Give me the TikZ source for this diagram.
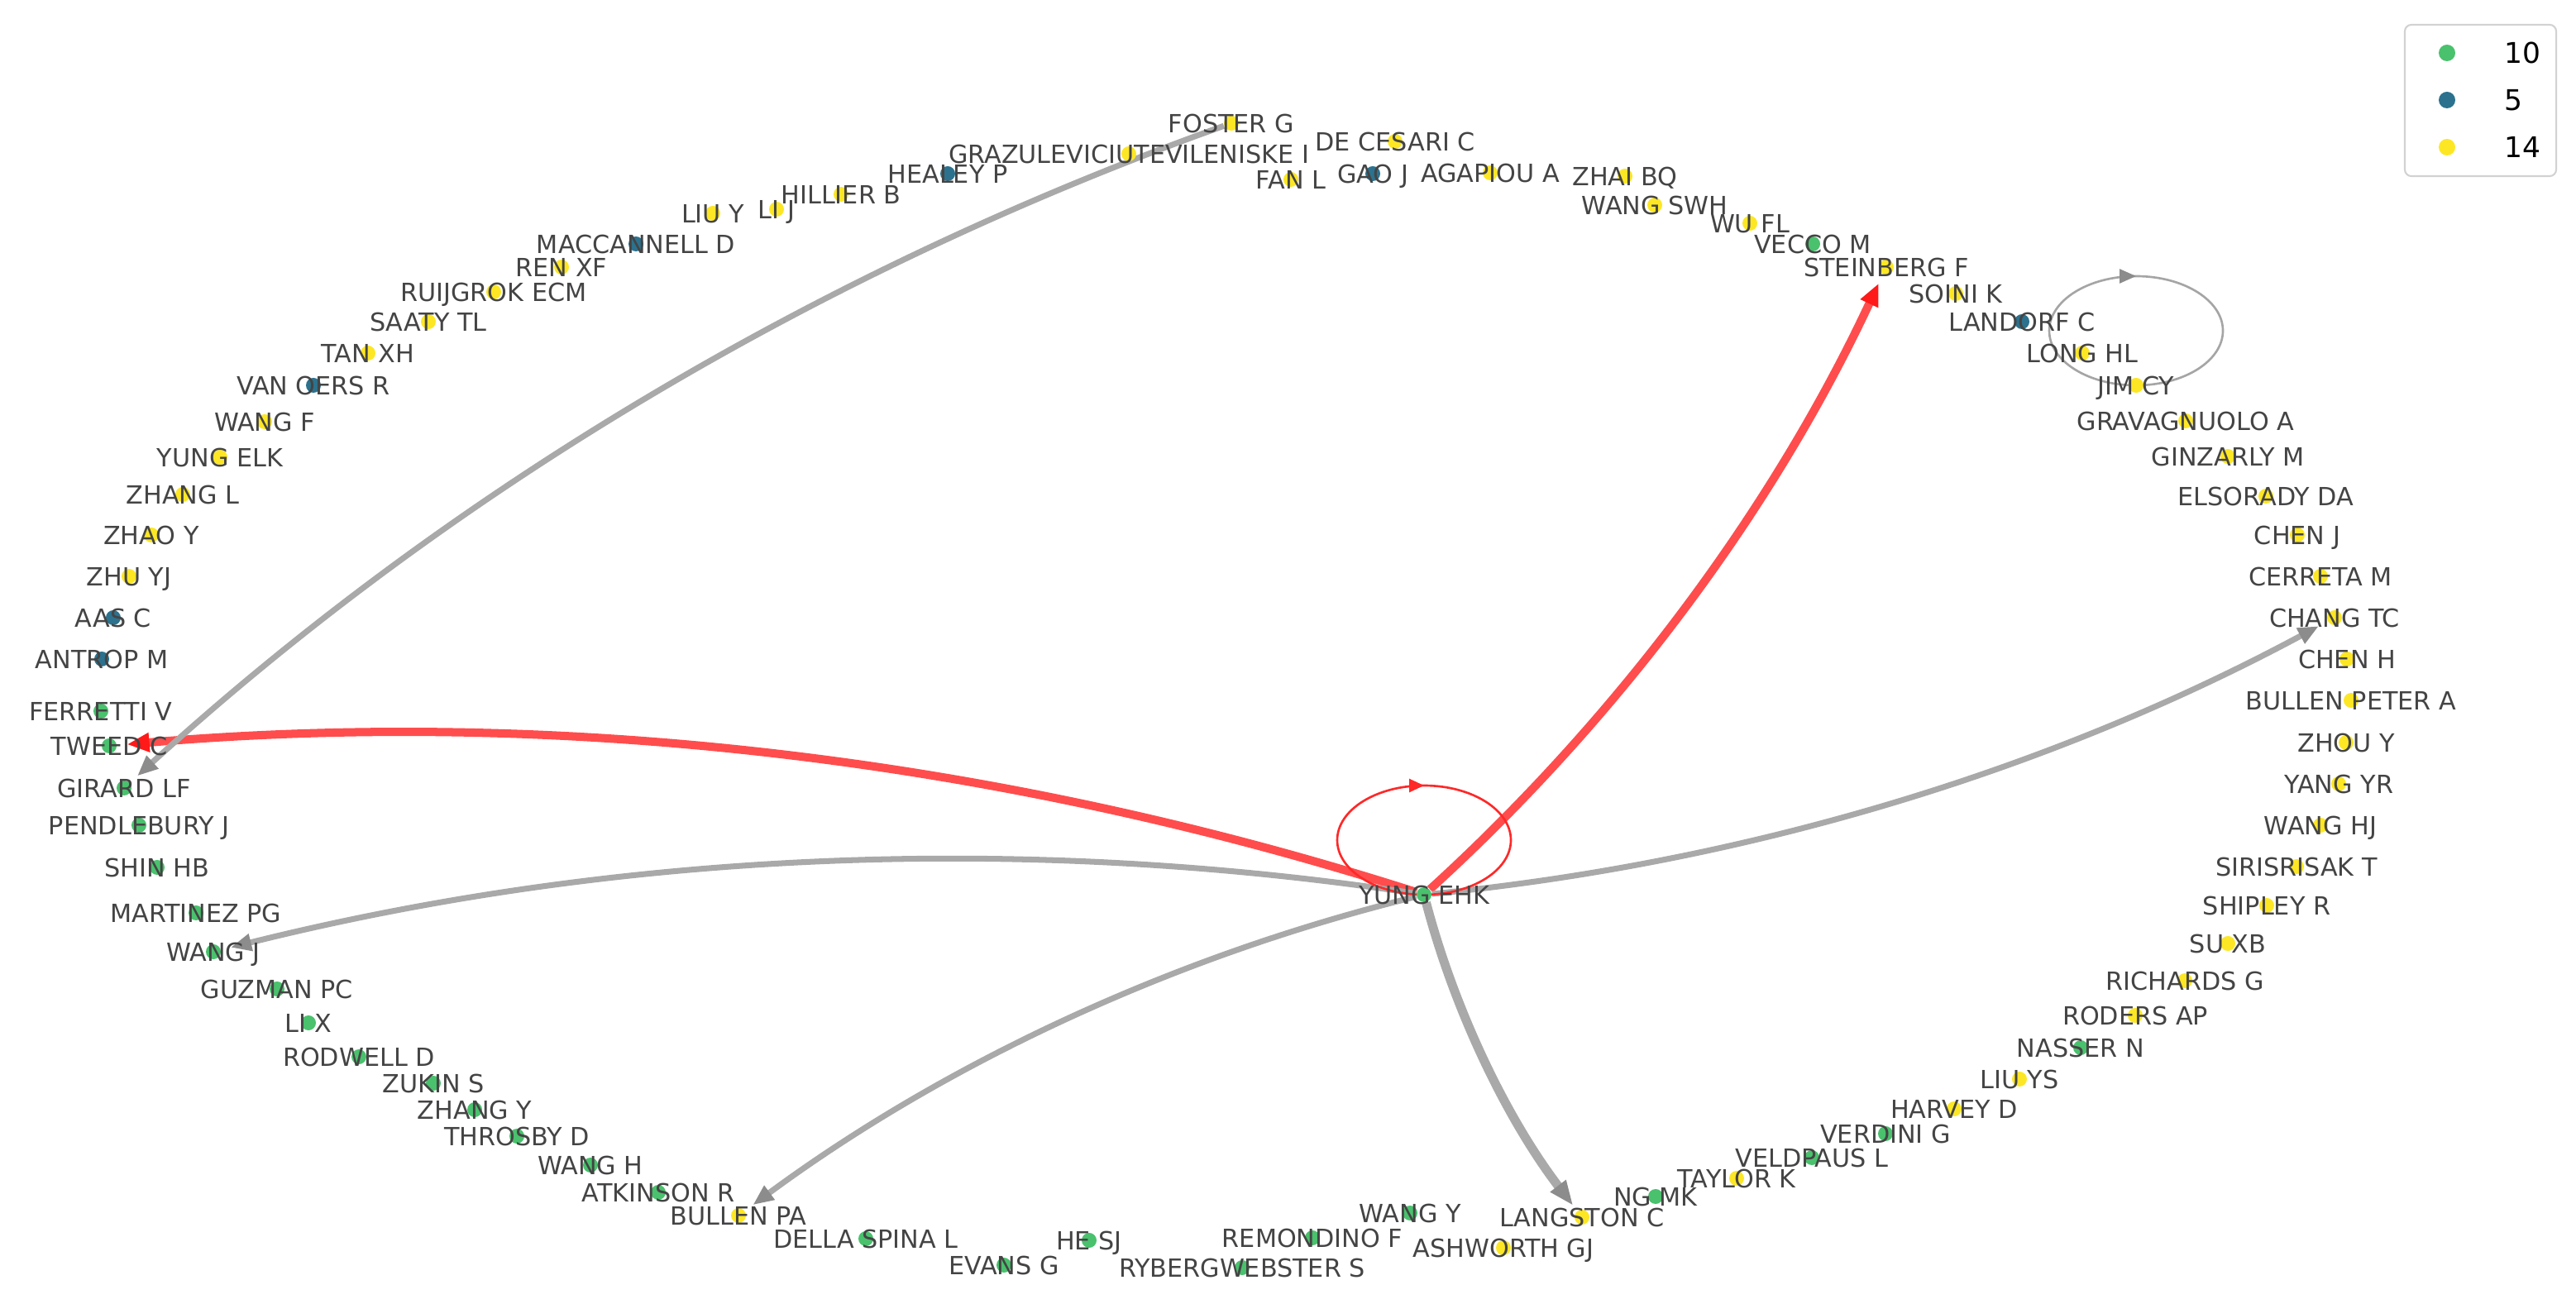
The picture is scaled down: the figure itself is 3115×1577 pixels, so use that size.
\documentclass[tikz,border=0pt]{standalone}
\usepackage{fontspec}
\setmainfont{DejaVu Sans}
\usetikzlibrary{calc,arrows.meta,decorations.markings}
\definecolor{cg}{RGB}{74,193,109}
\definecolor{cb}{RGB}{44,114,142}
\definecolor{cy}{RGB}{253,231,37}
\definecolor{labgray}{RGB}{68,68,68}
\definecolor{edgegray}{RGB}{169,169,169}
\definecolor{headgray}{RGB}{140,140,140}
\definecolor{edgered}{RGB}{255,77,77}
\definecolor{headred}{RGB}{255,25,25}
\definecolor{loopred}{RGB}{255,40,40}
\definecolor{loopgray}{RGB}{165,165,165}
\definecolor{legborder}{RGB}{210,210,210}
\pgfdeclarelayer{edges}
\pgfsetlayers{edges,main}
\tikzset{
  dot/.style={circle,inner sep=0pt,minimum size=0.18cm,draw=none},
  lbl/.style={inner sep=0pt,text=labgray,font=\fontsize{8.6}{10}\selectfont,text height=6.27pt,text depth=0pt},
  greyedge/.style={draw=edgegray,line width=2pt,shorten >=0.12cm,-{Triangle[length=0.25cm,width=0.2cm,color=headgray]}},
  thickgrey/.style={draw=edgegray,line width=3.1pt,shorten >=0.08cm,-{Triangle[length=0.3cm,width=0.22cm,color=headgray]}},
  rededge/.style={draw=edgered,line width=2.85pt,shorten >=0.12cm,-{Triangle[length=0.27cm,width=0.22cm,color=headred]}},
  redloop/.style={draw=loopred,line width=0.75pt,postaction={decorate},
    decoration={markings,mark=at position 0.5 with {\arrow{Triangle[length=0.18cm,width=0.16cm,color=loopred]}}}},
  greyloop/.style={draw=loopgray,line width=0.75pt,postaction={decorate},
    decoration={markings,mark=at position 0.5 with {\arrow{Triangle[length=0.2cm,width=0.17cm,color=loopgray!85!black]}}}},
  legtext/.style={anchor=west,inner sep=0pt,font=\fontsize{9.8}{11}\selectfont,text=black},
}
\newcommand{\pnode}[4]{\node[dot,fill=#2] (#1) at (#3) {}; \node[lbl] (#1-t) at (#1) {#4};}
\newcommand{\arcthree}[3]{%
  \begin{pgfonlayer}{edges}
  \path ($(#2)!0.5!(#3)$) coordinate (mid)
        ($(mid)!0.2!-90:(#3)$) coordinate (ctl)
        ($(#2)!2/3!(ctl)$) coordinate (ca)
        ($(#3)!2/3!(ctl)$) coordinate (cb);
  \draw[#1] (#2) .. controls (ca) and (cb) .. (#3);
  \end{pgfonlayer}}
\begin{document}
\begin{tikzpicture}[x=0.01cm,y=-0.01cm]
\useasboundingbox (0,0) rectangle (3115,1577);
% nodes
\pnode{fosterg}{cy}{1489,149}{FOSTER G}
\pnode{grazul}{cy}{1365,186}{GRAZULEVICIUTEVILENISKE I}
\pnode{healey}{cb}{1146,210}{HEALEY P}
\pnode{hillier}{cy}{1017,235}{HILLIER B}
\pnode{lij}{cy}{939,253}{LI J}
\pnode{liuy}{cy}{862,258}{LIU Y}
\pnode{maccan}{cb}{769,295}{MACCANNELL D}
\pnode{renxf}{cy}{679,323}{REN XF}
\pnode{ruijgrok}{cy}{597,353}{RUIJGROK ECM}
\pnode{saaty}{cy}{518,389}{SAATY TL}
\pnode{tanxh}{cy}{445,427}{TAN XH}
\pnode{vanoers}{cb}{379,466}{VAN OERS R}
\pnode{wangf}{cy}{320,510}{WANG F}
\pnode{yungelk}{cy}{266,553}{YUNG ELK}
\pnode{zhangl}{cy}{221,598}{ZHANG L}
\pnode{zhaoy}{cy}{183,647}{ZHAO Y}
\pnode{zhuyj}{cy}{156,697}{ZHU YJ}
\pnode{aasc}{cb}{137,747}{AAS C}
\pnode{antrop}{cb}{123,797}{ANTROP M}
\pnode{ferretti}{cg}{122,860}{FERRETTI V}
\pnode{tweed}{cg}{132,902}{TWEED C}
\pnode{girard}{cg}{150,953}{GIRARD LF}
\pnode{pendle}{cg}{168,998}{PENDLEBURY J}
\pnode{shinhb}{cg}{190,1049}{SHIN HB}
\pnode{martinez}{cg}{237,1104}{MARTINEZ PG}
\pnode{wangj}{cg}{258,1151}{WANG J}
\pnode{guzman}{cg}{335,1196}{GUZMAN PC}
\pnode{lix}{cg}{373,1237}{LI X}
\pnode{rodwell}{cg}{434,1278}{RODWELL D}
\pnode{zukin}{cg}{524,1310}{ZUKIN S}
\pnode{zhangy}{cg}{574,1342}{ZHANG Y}
\pnode{throsby}{cg}{625,1374}{THROSBY D}
\pnode{wangh}{cg}{714,1409}{WANG H}
\pnode{atkinson}{cg}{796,1442}{ATKINSON R}
\pnode{bullenpa}{cy}{893,1470}{BULLEN PA}
\pnode{della}{cg}{1047,1498}{DELLA SPINA L}
\pnode{evans}{cg}{1214,1530}{EVANS G}
\pnode{hesj}{cg}{1317,1500}{HE SJ}
\pnode{ryberg}{cg}{1502,1533}{RYBERGWEBSTER S}
\pnode{remondino}{cg}{1587,1497}{REMONDINO F}
\pnode{wangy}{cg}{1705,1467}{WANG Y}
\pnode{ashworth}{cy}{1818,1509}{ASHWORTH GJ}
\pnode{langston}{cy}{1913,1472}{LANGSTON C}
\pnode{ngmk}{cg}{2002,1447}{NG MK}
\pnode{taylor}{cy}{2100,1425}{TAYLOR K}
\pnode{veldpaus}{cg}{2191,1400}{VELDPAUS L}
\pnode{verdini}{cg}{2280,1371}{VERDINI G}
\pnode{harvey}{cy}{2363,1341}{HARVEY D}
\pnode{liuys}{cy}{2442,1305}{LIU YS}
\pnode{nasser}{cg}{2516,1267}{NASSER N}
\pnode{roders}{cy}{2582,1228}{RODERS AP}
\pnode{richards}{cy}{2642,1186}{RICHARDS G}
\pnode{suxb}{cy}{2694,1141}{SU XB}
\pnode{shipley}{cy}{2741,1095}{SHIPLEY R}
\pnode{sirisri}{cy}{2777,1048}{SIRISRISAK T}
\pnode{wanghj}{cy}{2806,998}{WANG HJ}
\pnode{yangyr}{cy}{2828,948}{YANG YR}
\pnode{zhouy}{cy}{2837,898}{ZHOU Y}
\pnode{bullenpeter}{cy}{2843,847}{BULLEN PETER A}
\pnode{chenh}{cy}{2838,797}{CHEN H}
\pnode{changtc}{cy}{2823,747}{CHANG TC}
\pnode{cerreta}{cy}{2806,697}{CERRETA M}
\pnode{chenj}{cy}{2778,647}{CHEN J}
\pnode{elsorady}{cy}{2740,600}{ELSORADY DA}
\pnode{ginzarly}{cy}{2694,552}{GINZARLY M}
\pnode{gravag}{cy}{2643,509}{GRAVAGNUOLO A}
\pnode{jimcy}{cy}{2583,466}{JIM CY}
\pnode{longhl}{cy}{2518,427}{LONG HL}
\pnode{landorf}{cb}{2445,389}{LANDORF C}
\pnode{soini}{cy}{2365,355}{SOINI K}
\pnode{steinberg}{cy}{2281,323}{STEINBERG F}
\pnode{vecco}{cg}{2192,295}{VECCO M}
\pnode{wufl}{cy}{2116,270}{WU FL}
\pnode{wangswh}{cy}{2001,248}{WANG SWH}
\pnode{zhaibq}{cy}{1965,213}{ZHAI BQ}
\pnode{agapiou}{cy}{1802,209}{AGAPIOU A}
\pnode{gaoj}{cb}{1660,210}{GAO J}
\pnode{decesari}{cy}{1687,171}{DE CESARI C}
\pnode{fanl}{cy}{1561,217}{FAN L}
\pnode{yung}{cg}{1722,1082}{YUNG EHK}
% edges
\arcthree{rededge}{yung}{tweed}
\arcthree{rededge}{yung}{steinberg}
\arcthree{greyedge}{fosterg}{girard}
\arcthree{greyedge}{yung}{changtc}
\arcthree{greyedge}{yung}{wangj}
\arcthree{greyedge}{yung}{bullenpa}
\arcthree{thickgrey}{yung}{langston}
\begin{pgfonlayer}{edges}
\draw[redloop] (yung.center) arc[start angle=90,end angle=450,x radius=105,y radius=66];
\draw[greyloop] (jimcy.center) arc[start angle=90,end angle=450,x radius=105,y radius=66];
\end{pgfonlayer}
% legend
\node[draw=legborder,fill=white,rounded corners=0.08cm,line width=0.6pt,minimum width=1.83cm,minimum height=1.83cm,inner sep=0pt] (legbox) at (2999.5,121.5) {};
\node[dot,fill=cg,minimum size=0.2cm] (leg10) at (2959,64) {};
\node[dot,fill=cb,minimum size=0.2cm] (leg5) at (2959,121) {};
\node[dot,fill=cy,minimum size=0.2cm] (leg14) at (2959,178) {};
\node[legtext] (leg10t) at (3028,64) {10};
\node[legtext] (leg5t) at (3028,121) {5};
\node[legtext] (leg14t) at (3028,178) {14};
\end{tikzpicture}
\end{document}
